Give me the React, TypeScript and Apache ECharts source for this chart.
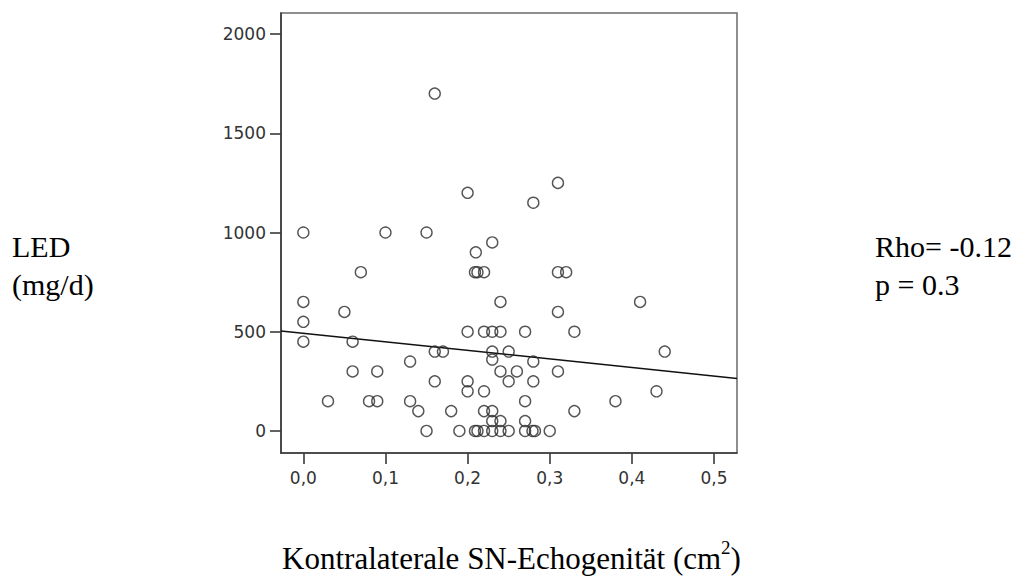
import React, { useEffect, useRef } from "react";
import * as echarts from "echarts";

// Kontralaterale SN-Echogenität (cm²)
const snEcho: number[] = [
  0.16, 0.31, 0.2, 0.28,
  0.0, 0.1, 0.15,
  0.23, 0.21,
  0.07, 0.209, 0.212, 0.22, 0.31, 0.32,
  0.0, 0.24, 0.41,
  0.05, 0.31,
  0.0,
  0.2, 0.22, 0.23, 0.24, 0.27, 0.33,
  0.0, 0.06,
  0.16, 0.17, 0.23, 0.25, 0.44,
  0.23,
  0.13, 0.28,
  0.06, 0.09, 0.24, 0.26, 0.31,
  0.16, 0.2, 0.25, 0.28,
  0.2, 0.22, 0.43,
  0.03, 0.08, 0.09, 0.13, 0.27, 0.38,
  0.14, 0.18, 0.22, 0.23, 0.33,
  0.23, 0.24, 0.27,
  0.15, 0.19, 0.209, 0.212, 0.22, 0.23, 0.24, 0.25, 0.27, 0.279, 0.282, 0.3,
];

// LED (mg/d)
const led: number[] = [
  1700, 1250, 1200, 1150,
  1000, 1000, 1000,
  950, 900,
  800, 800, 800, 800, 800, 800,
  650, 650, 650,
  600, 600,
  550,
  500, 500, 500, 500, 500, 500,
  450, 450,
  400, 400, 400, 400, 400,
  360,
  350, 350,
  300, 300, 300, 300, 300,
  250, 250, 250, 250,
  200, 200, 200,
  150, 150, 150, 150, 150, 150,
  100, 100, 100, 100, 100,
  50, 50, 50,
  0, 0, 0, 0, 0, 0, 0, 0, 0, 0, 0, 0,
];

const xTicks: number[] = [0, 0.1, 0.2, 0.3, 0.4, 0.5];
const yTicks: number[] = [0, 500, 1000, 1500, 2000];

// fit line
const fitIntercept = 492;
const fitSlope = -430;

const xMin = -0.0272;
const xMax = 0.528;
const yMin = -111;
const yMax = 2106;

const yTitle = ["LED", "(mg/d)"];
const statLines = ["Rho= -0.12", "p = 0.3"];

export default function App() {
  const ref = useRef<HTMLDivElement>(null);

  useEffect(() => {
    if (!ref.current) return;
    const chart = echarts.init(ref.current, undefined, { renderer: "svg" });
    const points = snEcho.map((x, i) => [x, led[i]]);
    const fit = [
      [xMin, fitIntercept + fitSlope * xMin],
      [xMax, fitIntercept + fitSlope * xMax],
    ];
    const serif = "'Liberation Serif', 'Times New Roman', serif";
    const sans = "'DejaVu Sans', Verdana, sans-serif";
    const fs = 30;
    const mid = (baseline: number) => baseline - 0.3375 * fs;
    const lineText = (x: number, baseline: number, text: string) => ({
      type: "text",
      x,
      y: mid(baseline),
      style: {
        text,
        font: `${fs}px ${serif}`,
        fill: "#000",
        verticalAlign: "middle",
        align: "left",
      },
    });
    chart.setOption({
      animation: false,
      backgroundColor: "#ffffff",
      grid: {
        left: 281,
        top: 13,
        right: 1023 - 737,
        bottom: 583 - 453,
        show: true,
        borderColor: "#6a6a6a",
        borderWidth: 1.5,
        backgroundColor: "transparent",
      },
      xAxis: {
        type: "value",
        min: xMin,
        max: xMax,
        axisLine: { show: true, onZero: false, lineStyle: { color: "#3a3a3a", width: 1.6 } },
        axisTick: {
          show: true,
          length: 11,
          customValues: xTicks,
          lineStyle: { color: "#3a3a3a", width: 1.6 },
        },
        axisLabel: {
          customValues: xTicks,
          margin: 16,
          color: "#333",
          fontFamily: sans,
          fontSize: 17,
          formatter: (v: number) => v.toFixed(1).replace(".", ","),
        },
        splitLine: { show: false },
      },
      yAxis: {
        type: "value",
        min: yMin,
        max: yMax,
        axisLine: { show: true, onZero: false, lineStyle: { color: "#3a3a3a", width: 1.6 } },
        axisTick: {
          show: true,
          length: 11,
          customValues: yTicks,
          lineStyle: { color: "#3a3a3a", width: 1.6 },
        },
        axisLabel: {
          customValues: yTicks,
          margin: 15,
          color: "#333",
          fontFamily: sans,
          fontSize: 17,
          formatter: (v: number) => String(v),
        },
        splitLine: { show: false },
      },
      series: [
        {
          type: "scatter",
          data: points,
          symbol: "circle",
          symbolSize: 11,
          itemStyle: { color: "rgba(0,0,0,0)", borderColor: "#2a2a2a", borderWidth: 1.4 },
          z: 3,
        },
        {
          type: "line",
          data: fit,
          showSymbol: false,
          lineStyle: { color: "#111", width: 1.5 },
          z: 2,
        },
      ],
      graphic: [
        lineText(12, 257, yTitle[0]),
        lineText(12, 295, yTitle[1]),
        lineText(875, 257, statLines[0]),
        lineText(875, 295, statLines[1]),
        {
          type: "text",
          left: "center",
          top: 538,
          style: {
            text: "{m|Kontralaterale SN-Echogenität (cm}{s|2}{m|)}",
            rich: {
              m: { fontFamily: serif, fontSize: 31, lineHeight: 36, verticalAlign: "bottom", fill: "#000" },
              s: { fontFamily: serif, fontSize: 19, lineHeight: 36, verticalAlign: "top", fill: "#000" },
            },
            fill: "#000",
          },
        },
      ],
    });
    return () => chart.dispose();
  }, []);

  return (
    <div
      ref={ref}
      style={{ position: "fixed", left: 0, top: 0, width: 1023, height: 583 }}
    />
  );
}
